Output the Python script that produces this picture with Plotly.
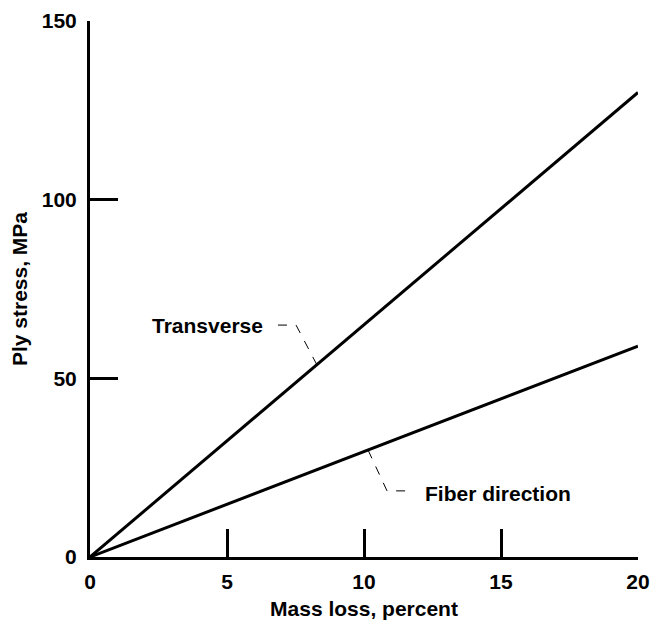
import plotly.graph_objects as go

# Data
mass_loss = [0, 20]
transverse = [0, 130]
fiber_direction = [0, 59]
x_ticks = [0, 5, 10, 15, 20]
y_ticks = [0, 50, 100, 150]

FONT = dict(family="Liberation Sans, Arial, Helvetica, sans-serif", size=21, color="black", weight="bold")

fig = go.Figure()
fig.add_trace(go.Scatter(x=mass_loss, y=transverse, mode="lines",
                         line=dict(color="black", width=3), name="Transverse", showlegend=False))
fig.add_trace(go.Scatter(x=mass_loss, y=fiber_direction, mode="lines",
                         line=dict(color="black", width=3), name="Fiber direction", showlegend=False))

# leader lines
fig.add_shape(type="path", path="M 6.86 64.9 L 7.52 64.9 L 8.28 53.8", xref="x", yref="y",
              line=dict(color="black", width=1, dash="dash"))
fig.add_shape(type="path", path="M 10.15 29.9 L 10.84 18.5 L 11.5 18.5", xref="x", yref="y",
              line=dict(color="black", width=1, dash="dash"))

fig.add_annotation(x=6.39, y=64.9, text="Transverse", showarrow=False, xanchor="right",
                   yanchor="middle", font=FONT)
fig.add_annotation(x=12.15, y=17.8, text="Fiber direction", showarrow=False, xanchor="left",
                   yanchor="middle", font=FONT)

axis_common = dict(showline=True, linewidth=3, linecolor="black", ticks="inside",
                   ticklen=28, tickwidth=2.5, tickcolor="black", showgrid=False,
                   zeroline=False, tickfont=FONT, automargin=False,
                   ticklabeloverflow="allow")

fig.update_layout(
    width=650, height=618,
    margin=dict(l=82, r=20, t=13, b=69),
    paper_bgcolor="white", plot_bgcolor="white",
    xaxis=dict(range=[0, 20], tickvals=x_ticks, ticktext=[str(v) for v in x_ticks],
               ticklabelstandoff=4,
               title=dict(text="Mass loss, percent", font=FONT, standoff=10), **axis_common),
    yaxis=dict(range=[0, 150], tickvals=y_ticks, ticktext=[str(v) for v in y_ticks],
               ticklabelstandoff=6,
               title=dict(text="Ply stress, MPa", font=FONT, standoff=15), **axis_common),
)

fig.write_html("out.html")
